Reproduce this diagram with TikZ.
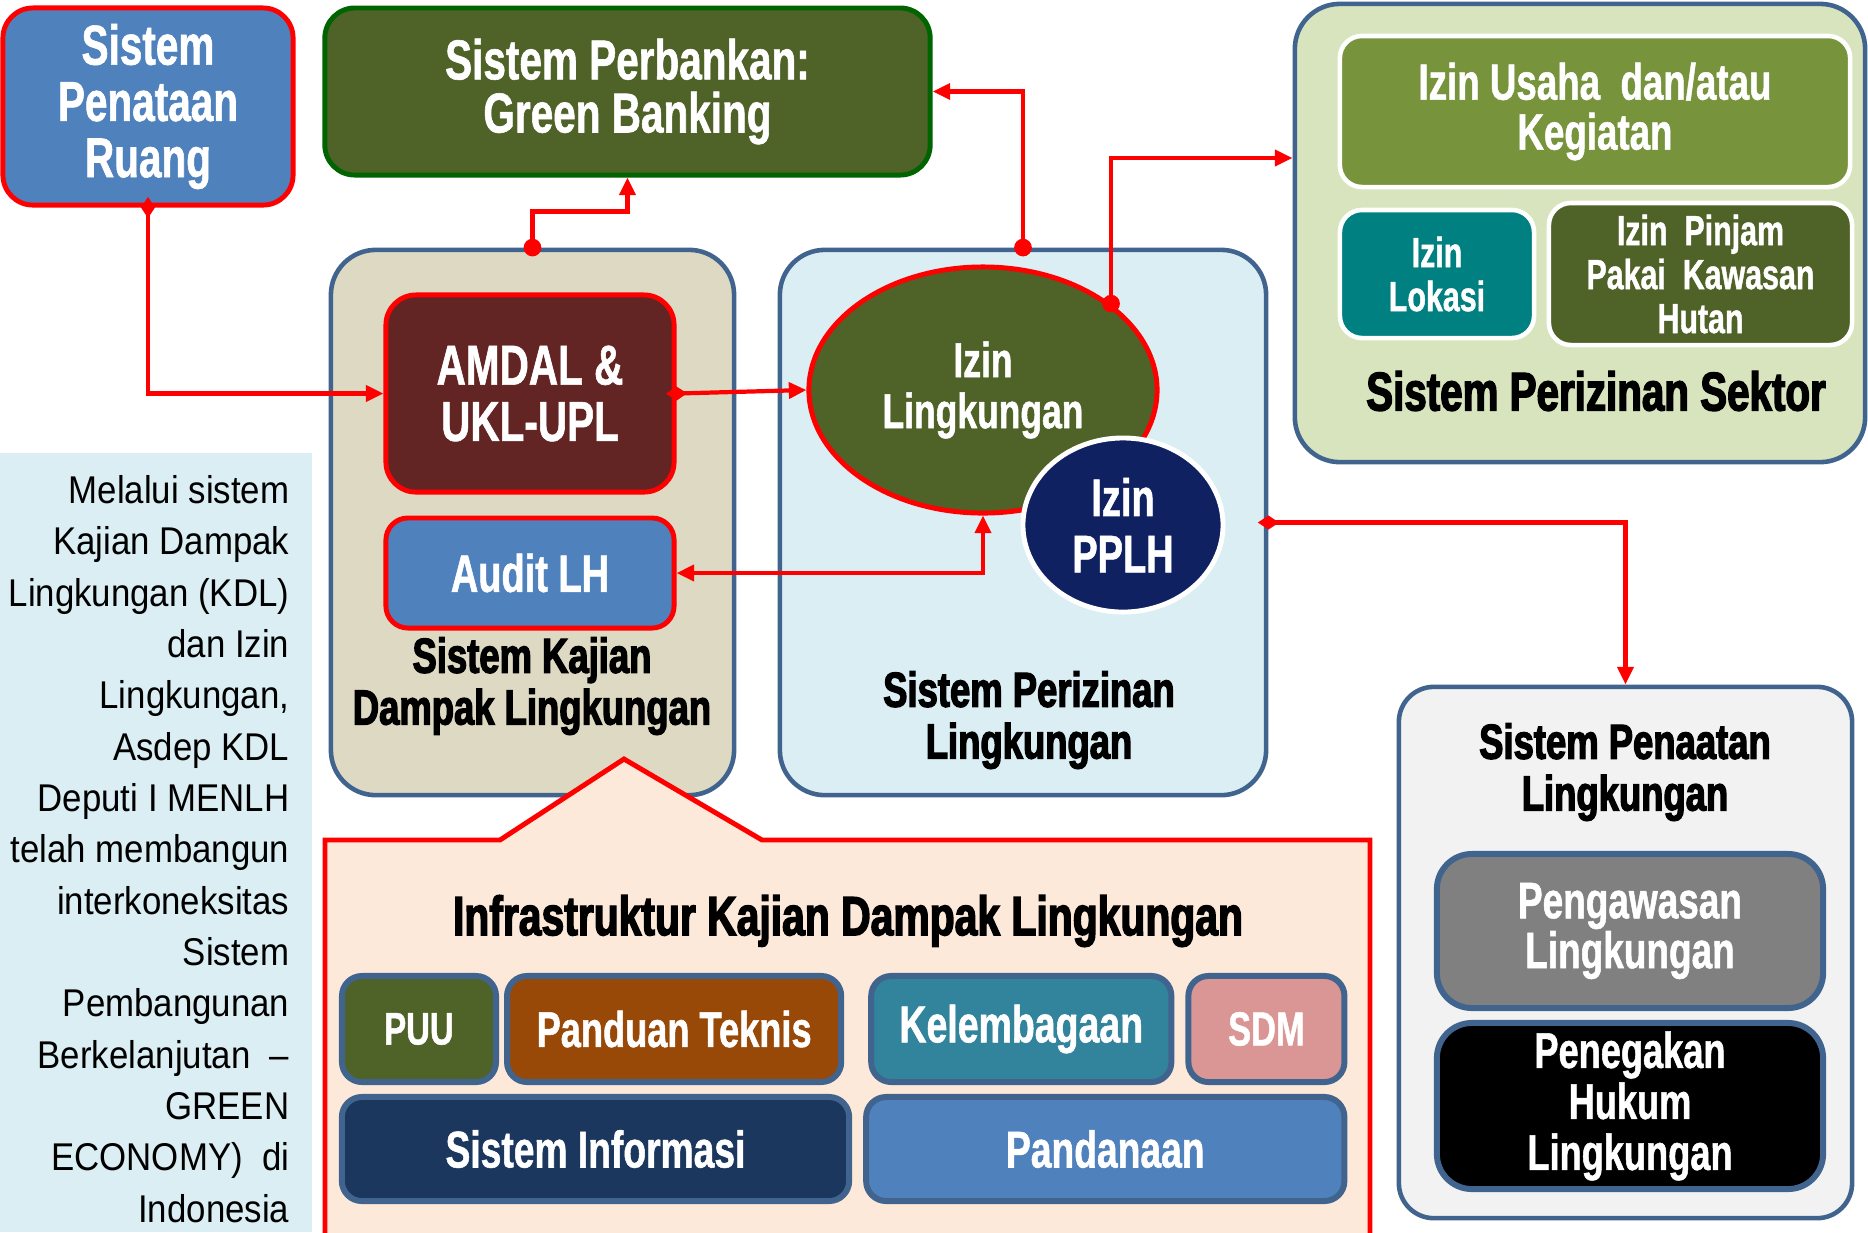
\documentclass[tikz,border=0pt]{standalone}
\usepackage{fontspec}
\setmainfont{Liberation Sans}
\newfontfamily\impactfont{Liberation Sans}[FakeStretch=0.72,FakeBold=1]
\newfontfamily\heavyfont{Liberation Sans}[FakeStretch=0.74,FakeBold=2.5]
\newfontfamily\panelfont{Liberation Sans}[FakeStretch=0.9]
\newcommand\lblfont[2]{\impactfont\bfseries\fontsize{#1}{#2}\selectfont}
\newcommand\headfont[2]{\heavyfont\bfseries\fontsize{#1}{#2}\selectfont}
\usepackage{tikz}
\usetikzlibrary{positioning}
\usetikzlibrary{calc}
\usetikzlibrary{arrows.meta}
\usetikzlibrary{shapes.geometric}

\definecolor{frame}{HTML}{41648F}
\definecolor{steelblue}{HTML}{4F81BD}
\definecolor{mossgreen}{HTML}{4F6228}
\definecolor{leafgreen}{HTML}{77933C}
\definecolor{bankborder}{HTML}{006400}
\definecolor{maroonred}{HTML}{632523}
\definecolor{sand}{HTML}{DDD9C3}
\definecolor{paleblue}{HTML}{DAEEF3}
\definecolor{palegreen}{HTML}{D7E4BD}
\definecolor{tealgreen}{HTML}{008080}
\definecolor{deepnavy}{HTML}{0F2160}
\definecolor{peach}{HTML}{FDE9D9}
\definecolor{rust}{HTML}{984807}
\definecolor{seablue}{HTML}{31849B}
\definecolor{rosepink}{HTML}{D99694}
\definecolor{inknavy}{HTML}{1B375E}
\definecolor{lightgrey}{HTML}{F2F2F2}
\definecolor{midgrey}{HTML}{808080}

\begin{document}
\begin{tikzpicture}[x=0.01cm, y=-0.01cm,
  box/.style={rectangle, rounded corners=0.3cm, inner sep=0pt, align=center, text=white, font=\lblfont{14.5}{14.2}},
  redbox/.style={box, draw=red, line width=1.4pt},
  whitebox/.style={box, draw=white, line width=1.3pt, rounded corners=0.22cm},
  infobox/.style={box, draw=frame, line width=1.7pt, rounded corners=0.2cm, minimum height=1.04cm},
  panel/.style={rectangle, rounded corners=0.45cm, draw=frame, line width=1.3pt},
  headtext/.style={align=center, text=black, font=\headfont{14}{14.7}},
  link/.style={draw=red, line width=1.2pt},
  dotlink/.style={link, {Circle[length=5pt]}-{Triangle[length=5pt,width=4.5pt]}, shorten <=-2.5pt},
  diamlink/.style={link, {Diamond[length=6pt,width=4pt]}-{Triangle[length=5pt,width=4.5pt]}, shorten <=-3pt},
  ringnode/.style={ellipse, inner sep=0pt, align=center, text=white}]
\useasboundingbox (0,0) rectangle (1868,1232);

% left note
\fill[paleblue] (0,453) rectangle (312,1232);
\node[anchor=east, align=right, inner sep=0pt, font=\panelfont\fontsize{11}{14.6}\selectfont] (note) at (290,849)
  {Melalui sistem\\Kajian Dampak\\Lingkungan (KDL)\\dan Izin\\Lingkungan,\\Asdep KDL\\Deputi I MENLH\\telah membangun\\interkoneksitas\\Sistem\\Pembangunan\\Berkelanjutan~~–\\GREEN\\ECONOMY)~~di\\Indonesia};

% containers
\node[panel, fill=sand, minimum width=4.03cm, minimum height=5.45cm] (kajian) at (532.5,522.5) {};
\node[panel, fill=paleblue, minimum width=4.86cm, minimum height=5.45cm] (izinbox) at (1023,522.5) {};
\node[panel, fill=palegreen, minimum width=5.70cm, minimum height=4.58cm] (sektor) at (1580,233) {};
\node[panel, fill=lightgrey, minimum width=4.53cm, minimum height=5.31cm, rounded corners=0.35cm] (penaatan) at (1625.5,952.5) {};

% top row
\node[redbox, fill=steelblue, minimum width=2.90cm, minimum height=1.97cm, font=\lblfont{16}{16}] (ruang) at (148,106.5) {Sistem\\Penataan\\Ruang};
\node[box, fill=mossgreen, draw=bankborder, line width=1.4pt, minimum width=6.05cm, minimum height=1.67cm, font=\lblfont{16}{15.1}] (banking) at (627.5,91.5) {Sistem Perbankan:\\Green Banking};

% kajian dampak lingkungan
\node[redbox, fill=maroonred, minimum width=2.88cm, minimum height=1.97cm, font=\lblfont{16}{16}] (amdal) at (530,393.5) {AMDAL \&\\UKL-UPL};
\node[redbox, fill=steelblue, minimum width=2.88cm, minimum height=1.10cm, rounded corners=0.22cm, font=\lblfont{15}{15}] (audit) at (530,573) {Audit LH};
\node[headtext] (kajiantitle) at (532,686) {Sistem Kajian\\Dampak Lingkungan};

% perizinan lingkungan
\node[ringnode, fill=mossgreen, draw=red, line width=1.4pt, minimum width=3.48cm, minimum height=2.46cm, font=\lblfont{14}{14.5}] (izinlh) at (983,390) {Izin\\Lingkungan};
\node[ringnode, fill=deepnavy, draw=white, line width=1.4pt, minimum width=2.0cm, minimum height=1.74cm, font=\lblfont{15}{16}] (pplh) at (1123,525) {Izin\\PPLH};
\node[headtext] (izintitle) at (1029,720) {Sistem Perizinan\\Lingkungan};

% perizinan sektor
\node[whitebox, fill=leafgreen, minimum width=5.10cm, minimum height=1.51cm] (usaha) at (1595,111.5) {Izin Usaha~~dan/atau\\Kegiatan};
\node[whitebox, fill=tealgreen, minimum width=1.94cm, minimum height=1.28cm, font=\lblfont{12}{12.5}] (lokasi) at (1437,274) {Izin\\Lokasi};
\node[whitebox, fill=mossgreen, minimum width=3.03cm, minimum height=1.42cm, font=\lblfont{12}{12.5}] (pinjam) at (1700.5,274) {Izin~~Pinjam\\Pakai~~Kawasan\\Hutan};
\node[headtext, font=\headfont{15.5}{16}] (sektortitle) at (1596,391) {Sistem Perizinan Sektor};

% infrastruktur
\filldraw[draw=red, fill=peach, line width=1.4pt] (325,1240) -- (325,840) -- (500,840) -- (624,759) -- (762,840) -- (1370,840) -- (1370,1240);
\node[headtext, font=\headfont{15.7}{16}] (infratitle) at (848,921) {Infrastruktur Kajian Dampak Lingkungan};
\node[infobox, fill=mossgreen, minimum width=1.54cm, minimum height=1.06cm, font=\lblfont{13}{13}] (puu) at (419,1029) {PUU};
\node[infobox, fill=rust, minimum width=3.34cm, minimum height=1.06cm, font=\lblfont{14.3}{14.3}] (panduan) [right=0.05cm of puu] {Panduan Teknis};
\node[infobox, fill=seablue, minimum width=3.00cm, minimum height=1.06cm, font=\lblfont{14.8}{14.8}] (lembaga) [right=0.24cm of panduan] {Kelembagaan};
\node[infobox, fill=rosepink, minimum width=1.56cm, minimum height=1.06cm, font=\lblfont{13.6}{13.6}] (sdm) [right=0.11cm of lembaga] {SDM};
\node[infobox, fill=inknavy, minimum width=5.07cm, font=\lblfont{14.7}{14.7}] (sisinfo) at (595.5,1149) {Sistem Informasi};
\node[infobox, fill=steelblue, minimum width=4.78cm, font=\lblfont{14.7}{14.7}] (dana) [right=0.11cm of sisinfo] {Pandanaan};

% penaatan lingkungan
\node[headtext] (penaatantitle) at (1625,772) {Sistem Penaatan\\Lingkungan};
\node[infobox, fill=midgrey, minimum width=3.86cm, minimum height=1.54cm, rounded corners=0.35cm, font=\lblfont{14.6}{14.2}] (awas) at (1630,931) {Pengawasan\\Lingkungan};
\node[infobox, fill=black, minimum width=3.86cm, minimum height=1.66cm, rounded corners=0.35cm, font=\lblfont{14.3}{14.5}] (tegak) at (1630,1106) {Penegakan\\Hukum\\Lingkungan};

% connectors
\draw[diamlink] (ruang.south) |- (amdal.west);
\draw[dotlink] (kajian.north) -- ++(0,-36) -| (banking.south);
\draw[dotlink] (izinbox.north) |- (banking.east);
\draw[diamlink] (amdal.east) -- (izinlh.west);
\draw[dotlink] (izinlh.34) |- ($(sektor.west)+(0,-75)$);
\draw[link, {Triangle[length=5pt,width=4.5pt]}-{Triangle[length=5pt,width=4.5pt]}] (audit.east) -| (izinlh.south);
\draw[diamlink] (izinbox.east) -| (penaatan.north);
\end{tikzpicture}
\end{document}
